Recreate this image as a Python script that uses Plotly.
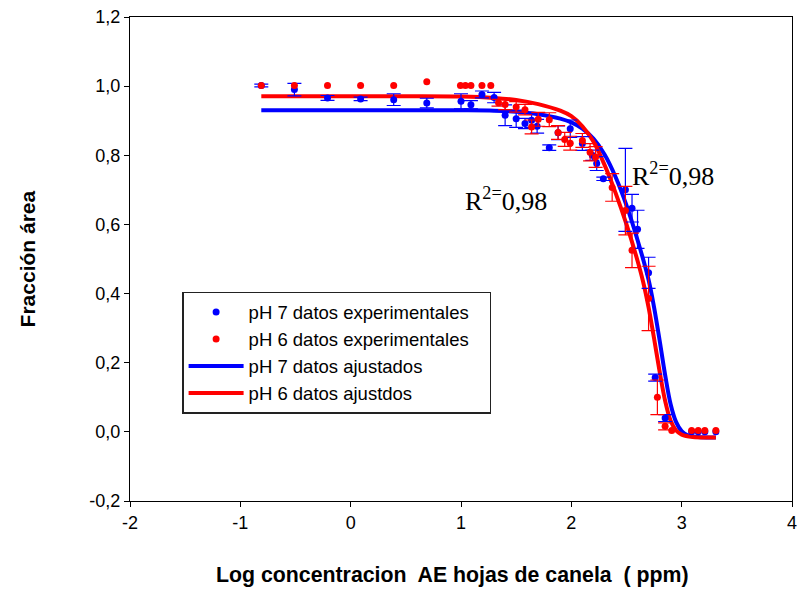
import plotly.graph_objects as go

NA = "NaN"  # no error bar measured for this point

# ---- experimental data (log concentration, area fraction, std error) ----
x_ph7 = [-0.81, -0.51, -0.21, 0.09, 0.39, 0.69, 1.00, 1.09, 1.19, 1.30, 1.40, 1.50, 1.58, 1.64,
         1.69, 1.80, 1.88, 1.99, 2.10, 2.19, 2.23, 2.29, 2.49, 2.55, 2.60, 2.70, 2.76, 2.85,
         3.09, 3.15, 3.21, 3.31]
y_ph7 = [1.002, 0.990, 0.966, 0.963, 0.961, 0.951, 0.956, 0.946, 0.976, 0.967, 0.916, 0.906, 0.892, 0.901,
         0.884, 0.822, 0.865, 0.877, 0.834, 0.800, 0.776, 0.732, 0.700, 0.647, 0.586, 0.460, 0.157, 0.040,
         0.000, 0.000, 0.000, 0.000]
e_ph7 = [0.004, 0.018, 0.007, 0.005, 0.017, 0.014, 0.022, 0.012, 0.010, 0.015, 0.030, 0.025, 0.015, 0.020,
         0.020, 0.008, 0.020, 0.025, 0.020, 0.015, 0.020, 0.005, 0.120, 0.040, 0.055, 0.045, 0.010, 0.010,
         NA, NA, NA, NA]

x_ph6 = [-0.81, -0.51, -0.21, 0.09, 0.39, 0.69, 0.995, 1.04, 1.09, 1.19, 1.27, 1.34, 1.40, 1.50,
         1.58, 1.64, 1.70, 1.80, 1.88, 1.94, 1.99, 2.10, 2.17, 2.22, 2.37, 2.49, 2.55, 2.70,
         2.78, 2.85, 2.91, 3.09, 3.15, 3.21, 3.31]
y_ph6 = [1.002, 1.002, 1.002, 1.002, 1.002, 1.013, 1.002, 1.002, 1.002, 1.002, 1.002, 0.952, 0.947, 0.940,
         0.932, 0.882, 0.904, 0.903, 0.866, 0.846, 0.835, 0.843, 0.809, 0.795, 0.707, 0.640, 0.525, 0.386,
         0.100, 0.016, 0.004, 0.004, 0.004, 0.004, 0.004]
e_ph6 = [NA, NA, NA, NA, NA, NA, NA, NA, NA, NA, NA, 0.010, 0.015, 0.015,
         0.015, 0.020, 0.020, 0.020, 0.020, 0.020, 0.020, 0.020, 0.025, 0.030, 0.040, 0.070, 0.050, 0.093,
         0.050, 0.010, NA, NA, NA, NA, NA]

# ---- fitted curves ----
x_fit7 = [-0.81, 0.5, 1.0, 1.3, 1.5, 1.7, 1.9, 2.0, 2.1, 2.2, 2.3, 2.4, 2.5, 2.6, 2.7,
          2.75, 2.8, 2.85, 2.9, 2.95, 3.0, 3.05, 3.15, 3.31]
y_fit7 = [0.930, 0.930, 0.930, 0.929, 0.926, 0.919, 0.906, 0.895, 0.877, 0.848, 0.803, 0.738, 0.655,
          0.555, 0.440, 0.360, 0.265, 0.165, 0.080, 0.028, 0.002, -0.009, -0.015, -0.016]
x_fit6 = [-0.81, 0.5, 1.0, 1.3, 1.5, 1.7, 1.9, 2.0, 2.1, 2.2, 2.3, 2.4, 2.5, 2.6, 2.65,
          2.7, 2.75, 2.8, 2.85, 2.9, 2.95, 3.0, 3.1, 3.31]
y_fit6 = [0.971, 0.971, 0.970, 0.966, 0.960, 0.948, 0.929, 0.913, 0.884, 0.840, 0.773, 0.692, 0.600,
          0.495, 0.435, 0.360, 0.270, 0.175, 0.090, 0.032, 0.004, -0.008, -0.015, -0.016]

names = ["pH 7 datos experimentales\u00a0\u00a0\u00a0", "pH 6 datos experimentales\u00a0\u00a0\u00a0",
         "pH 7 datos ajustados", "pH 6 datos ajustdos"]
r2_labels = ["R<sup>2=</sup>0,98", "R<sup>2=</sup>0,98"]
r2_pos_x = [1.02, 2.535]
r2_pos_y = [0.672, 0.745]

x_tickvals = [-2, -1, 0, 1, 2, 3, 4]
x_ticktext = ["-2", "-1", "0", "1", "2", "3", "4"]
y_tickvals = [-0.2, 0.0, 0.2, 0.4, 0.6, 0.8, 1.0, 1.2]
y_ticktext = ["-0,2", "0,0", "0,2", "0,4", "0,6", "0,8", "1,0", "1,2"]

BLUE = "#0000ff"
RED = "#ff0000"

fig = go.Figure()
fig.add_trace(go.Scatter(x=x_fit7, y=y_fit7, mode="lines", name=names[2], legendrank=3,
                         line=dict(color=BLUE, width=4, shape="spline", smoothing=1.0)))
fig.add_trace(go.Scatter(x=x_fit6, y=y_fit6, mode="lines", name=names[3], legendrank=4,
                         line=dict(color=RED, width=4, shape="spline", smoothing=1.0)))
fig.add_trace(go.Scatter(x=x_ph7, y=y_ph7, mode="markers", name=names[0], legendrank=1,
                         marker=dict(color=BLUE, size=7),
                         error_y=dict(type="data", array=e_ph7, color=BLUE, thickness=1.2, width=7)))
fig.add_trace(go.Scatter(x=x_ph6, y=y_ph6, mode="markers", name=names[1], legendrank=2,
                         marker=dict(color=RED, size=7),
                         error_y=dict(type="data", array=e_ph6, color=RED, thickness=1.2, width=7)))

for t, xx, yy in zip(r2_labels, r2_pos_x, r2_pos_y):
    fig.add_annotation(x=xx, y=yy, xref="x", yref="y", text=t, showarrow=False,
                       xanchor="left", yanchor="middle",
                       font=dict(family="Liberation Serif, Times New Roman, serif", size=26, color="black"))

fig.add_annotation(x=-0.155, y=0.5, xref="paper", yref="paper", text="<b>Fracción área</b>",
                   textangle=-90, showarrow=False, xanchor="center", yanchor="middle",
                   font=dict(family="Liberation Sans, Arial, sans-serif", size=21, color="black"))
fig.add_annotation(x=0.4876, y=-0.153, xref="paper", yref="paper",
                   text="<b>Log concentracion  AE hojas de canela  ( ppm)</b>",
                   showarrow=False, xanchor="center", yanchor="middle",
                   font=dict(family="Liberation Sans, Arial, sans-serif", size=21.3, color="black"))

axis_common = dict(showgrid=False, zeroline=False, showline=True, linecolor="black", linewidth=1,
                   mirror=True, ticks="outside", ticklen=5, tickcolor="black", tickwidth=1,
                   tickfont=dict(family="Liberation Sans, Arial, sans-serif", size=18, color="black"))
fig.update_xaxes(range=[-2, 4], tickmode="array", tickvals=x_tickvals, ticktext=x_ticktext, **axis_common)
fig.update_yaxes(range=[-0.2, 1.2], tickmode="array", tickvals=y_tickvals, ticktext=y_ticktext, **axis_common)

fig.update_layout(
    width=803, height=592,
    margin=dict(l=129.5, r=6, t=17, b=91),
    plot_bgcolor="white", paper_bgcolor="white",
    showlegend=True,
    legend=dict(x=0.0787, y=0.432, xanchor="left", yanchor="top",
                bgcolor="white", bordercolor="#222222", borderwidth=1.5,
                font=dict(family="Liberation Sans, Arial, sans-serif", size=18.5, color="black"),
                itemwidth=55, tracegroupgap=0),
)

fig.write_html("out.html")
